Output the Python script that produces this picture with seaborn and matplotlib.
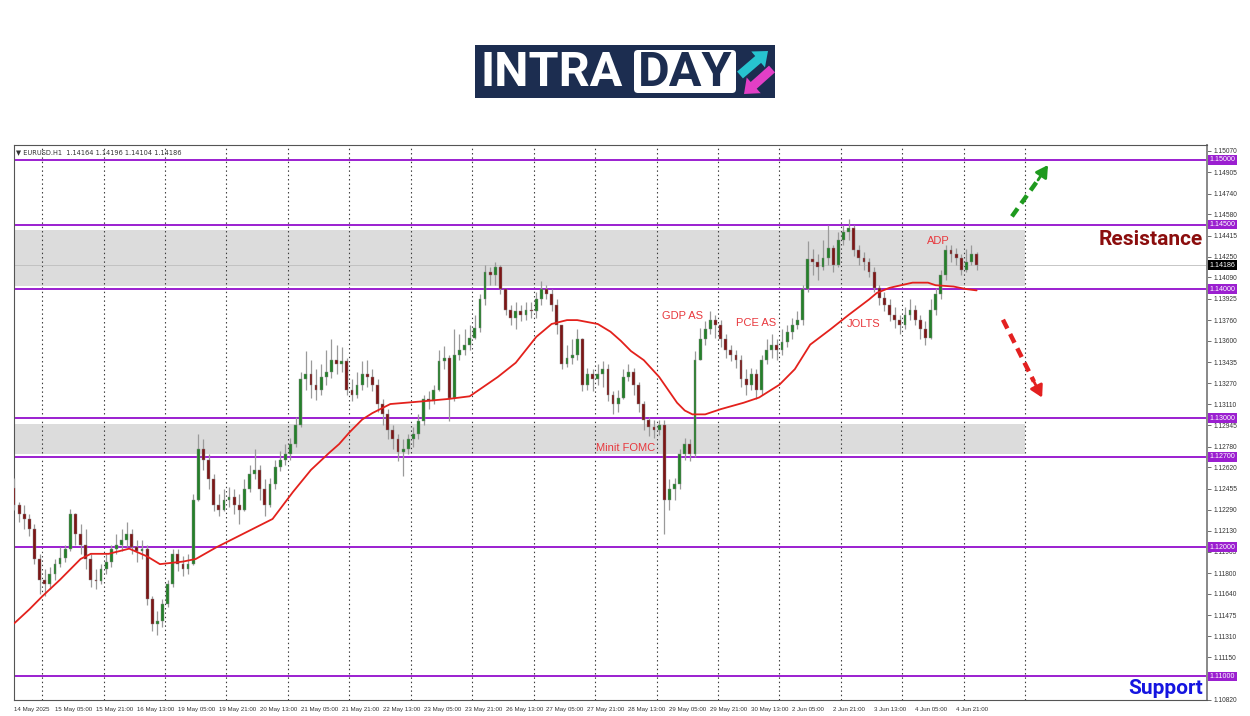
import numpy as np
import matplotlib
matplotlib.use("Agg")
import matplotlib.pyplot as plt
import matplotlib.transforms as mtransforms
from matplotlib.patches import Rectangle, FancyBboxPatch, FancyArrow
import seaborn as sns

# EURUSD, 2-hour candles (14 May 13:00 -> 5 Jun 05:00)
first_open = 1.1246
closes = [
    1.1233, 1.1226, 1.1222, 1.1214, 1.1191, 1.1175, 1.1172, 1.1179, 1.1187, 1.1192,
    1.1199, 1.1226, 1.1210, 1.1202, 1.1191, 1.1175, 1.1174, 1.1183, 1.1189, 1.1199,
    1.1202, 1.1206, 1.1210, 1.1200, 1.1197, 1.1199, 1.1160, 1.1141, 1.1143, 1.1156,
    1.1172, 1.1195, 1.1187, 1.1183, 1.1187, 1.1237, 1.1276, 1.1268, 1.1253, 1.1233,
    1.1229, 1.1237, 1.1239, 1.1233, 1.1229, 1.1245, 1.1257, 1.1260, 1.1245, 1.1233,
    1.1249, 1.1262, 1.1268, 1.1272, 1.1280, 1.1295, 1.1330, 1.1334, 1.1326, 1.1322,
    1.1332, 1.1336, 1.1345, 1.1342, 1.1344, 1.1322, 1.1318, 1.1326, 1.1334, 1.1332,
    1.1326, 1.1311, 1.1303, 1.1291, 1.1284, 1.1274, 1.1276, 1.1284, 1.1288, 1.1298,
    1.1315, 1.1313, 1.1322, 1.1344, 1.1347, 1.1316, 1.1349, 1.1353, 1.1357, 1.1362,
    1.1370, 1.1392, 1.1413, 1.1411, 1.1417, 1.1400, 1.1384, 1.1378, 1.1383, 1.1380,
    1.1384, 1.1383, 1.1392, 1.1400, 1.1396, 1.1388, 1.1372, 1.1342, 1.1347, 1.1349,
    1.1361, 1.1326, 1.1334, 1.1330, 1.1334, 1.1338, 1.1318, 1.1311, 1.1316, 1.1332,
    1.1336, 1.1326, 1.1311, 1.1299, 1.1293, 1.1291, 1.1295, 1.1237, 1.1245, 1.1249,
    1.1272, 1.1280, 1.1272, 1.1345, 1.1361, 1.1369, 1.1376, 1.1372, 1.1361, 1.1353,
    1.1349, 1.1345, 1.1330, 1.1326, 1.1334, 1.1322, 1.1345, 1.1353, 1.1357, 1.1353,
    1.1359, 1.1367, 1.1372, 1.1376, 1.1400, 1.1423, 1.1421, 1.1417, 1.1424, 1.1432,
    1.1419, 1.1438, 1.1444, 1.1447, 1.1430, 1.1424, 1.1421, 1.1413, 1.1401, 1.1393,
    1.1388, 1.1380, 1.1376, 1.1372, 1.1380, 1.1384, 1.1376, 1.1369, 1.1362, 1.1384,
    1.1396, 1.1411, 1.1430, 1.1427, 1.1424, 1.1415, 1.1421, 1.1427, 1.14186,
]
highs = [
    1.1254, 1.1235, 1.1233, 1.1226, 1.1218, 1.1195, 1.1183, 1.1185, 1.1191, 1.1200,
    1.1202, 1.1230, 1.1227, 1.1218, 1.1214, 1.1195, 1.1183, 1.1187, 1.1195, 1.1202,
    1.1210, 1.1214, 1.1220, 1.1214, 1.1206, 1.1206, 1.1202, 1.1162, 1.1151, 1.1160,
    1.1175, 1.1199, 1.1199, 1.1193, 1.1195, 1.1241, 1.1288, 1.1284, 1.1272, 1.1257,
    1.1241, 1.1245, 1.1247, 1.1245, 1.1241, 1.1253, 1.1264, 1.1276, 1.1264, 1.1253,
    1.1254, 1.1268, 1.1275, 1.1280, 1.1285, 1.1301, 1.1336, 1.1352, 1.1345, 1.1338,
    1.1342, 1.1353, 1.1361, 1.1357, 1.1355, 1.1347, 1.1330, 1.1336, 1.1344, 1.1345,
    1.1338, 1.1330, 1.1315, 1.1307, 1.1295, 1.1288, 1.1284, 1.1288, 1.1293, 1.1303,
    1.1318, 1.1321, 1.1326, 1.1353, 1.1356, 1.1349, 1.1369, 1.1365, 1.1369, 1.1372,
    1.1380, 1.1396, 1.1419, 1.1417, 1.1421, 1.1419, 1.1400, 1.1388, 1.1390, 1.1388,
    1.1390, 1.1390, 1.1398, 1.1406, 1.1403, 1.1400, 1.1392, 1.1372, 1.1357, 1.1361,
    1.1369, 1.1362, 1.1339, 1.1338, 1.1342, 1.1344, 1.1342, 1.1321, 1.1322, 1.1338,
    1.1342, 1.1339, 1.1328, 1.1313, 1.1301, 1.1299, 1.1299, 1.1299, 1.1253, 1.1254,
    1.1276, 1.1285, 1.1284, 1.1352, 1.1370, 1.1375, 1.1383, 1.1380, 1.1376, 1.1365,
    1.1357, 1.1353, 1.1349, 1.1338, 1.1339, 1.1338, 1.1349, 1.1361, 1.1365, 1.1361,
    1.1369, 1.1372, 1.1378, 1.1383, 1.1403, 1.1437, 1.1431, 1.1427, 1.1438, 1.1450,
    1.1434, 1.1444, 1.1450, 1.1454, 1.1450, 1.1434, 1.1429, 1.1424, 1.1417, 1.1403,
    1.1398, 1.1392, 1.1386, 1.1380, 1.1386, 1.1392, 1.1388, 1.1380, 1.1375, 1.1392,
    1.1401, 1.1415, 1.1434, 1.1434, 1.1432, 1.1427, 1.1431, 1.1434, 1.1429,
]
lows = [
    1.1229, 1.1220, 1.1214, 1.1209, 1.1187, 1.1164, 1.1162, 1.1168, 1.1175, 1.1185,
    1.1189, 1.1197, 1.1202, 1.1195, 1.1183, 1.1169, 1.1168, 1.1172, 1.1179, 1.1185,
    1.1195, 1.1197, 1.1200, 1.1195, 1.1189, 1.1191, 1.1155, 1.1135, 1.1132, 1.1138,
    1.1154, 1.1169, 1.1182, 1.1178, 1.1179, 1.1186, 1.1236, 1.1260, 1.1245, 1.1228,
    1.1224, 1.1228, 1.1231, 1.1226, 1.1218, 1.1228, 1.1243, 1.1253, 1.1237, 1.1224,
    1.1231, 1.1245, 1.1259, 1.1264, 1.1268, 1.1278, 1.1293, 1.1322, 1.1316, 1.1314,
    1.1318, 1.1326, 1.1331, 1.1334, 1.1336, 1.1318, 1.1313, 1.1316, 1.1322, 1.1324,
    1.1321, 1.1305, 1.1295, 1.1284, 1.1276, 1.1267, 1.1255, 1.1272, 1.1278, 1.1284,
    1.1295, 1.1307, 1.1311, 1.1321, 1.1338, 1.1298, 1.1313, 1.1345, 1.1349, 1.1353,
    1.1361, 1.1367, 1.1388, 1.1403, 1.1403, 1.1396, 1.1380, 1.1372, 1.1369, 1.1375,
    1.1376, 1.1378, 1.1378, 1.1388, 1.1392, 1.1383, 1.1365, 1.1338, 1.1340, 1.1342,
    1.1345, 1.1321, 1.1322, 1.1321, 1.1326, 1.1324, 1.1313, 1.1303, 1.1305, 1.1315,
    1.1329, 1.1318, 1.1305, 1.1291, 1.1286, 1.1285, 1.1287, 1.1210, 1.1229, 1.1237,
    1.1245, 1.1268, 1.1267, 1.1270, 1.1345, 1.1357, 1.1365, 1.1362, 1.1355, 1.1347,
    1.1344, 1.1339, 1.1324, 1.1318, 1.1322, 1.1315, 1.1318, 1.1342, 1.1347, 1.1345,
    1.1349, 1.1355, 1.1361, 1.1369, 1.1372, 1.1398, 1.1411, 1.1407, 1.1415, 1.1419,
    1.1413, 1.1417, 1.1434, 1.1438, 1.1426, 1.1419, 1.1415, 1.1409, 1.1398, 1.1388,
    1.1383, 1.1375, 1.1370, 1.1365, 1.1369, 1.1376, 1.1372, 1.1361, 1.1357, 1.1361,
    1.1380, 1.1392, 1.1407, 1.1421, 1.1419, 1.1411, 1.1413, 1.1419, 1.1415,
]

# red moving average, read at points along the line (x in hourly bars)
ma_hours = [0, 6, 11, 18, 26, 30, 37, 45, 52, 57, 66, 71, 79, 89, 101, 109, 116, 123,
            127, 131, 136, 140, 147, 159, 170, 178, 189, 196, 204, 210, 216, 220, 228,
            233, 237, 241, 246, 252, 259, 262, 265, 270, 276, 285, 291, 299, 305, 311,
            319, 326, 334, 337, 342, 351, 357, 360, 367, 372, 376]
ma_values = [1.1141, 1.1152, 1.1162, 1.1175, 1.1191, 1.1195, 1.1195, 1.1199, 1.1193,
             1.1187, 1.1189, 1.1191, 1.1200, 1.1210, 1.1222, 1.1243, 1.1260, 1.1273,
             1.1280, 1.1289, 1.1299, 1.1304, 1.1311, 1.1313, 1.1315, 1.1317, 1.1332,
             1.1343, 1.1363, 1.1373, 1.1376, 1.1376, 1.1373, 1.1367, 1.1360, 1.1352,
             1.1345, 1.1332, 1.1312, 1.1306, 1.1303, 1.1303, 1.1307, 1.1312, 1.1316,
             1.1326, 1.1338, 1.1357, 1.1369, 1.1380, 1.1392, 1.1397, 1.1401, 1.1405,
             1.1405, 1.1403, 1.1402, 1.1400, 1.1399]

tick_hours = list(range(0, 369, 16))
tick_labels = ["14 May 2025", "15 May 05:00", "15 May 21:00", "16 May 13:00",
               "19 May 05:00", "19 May 21:00", "20 May 13:00", "21 May 05:00",
               "21 May 21:00", "22 May 13:00", "23 May 05:00", "23 May 21:00",
               "26 May 13:00", "27 May 05:00", "27 May 21:00", "28 May 13:00",
               "29 May 05:00", "29 May 21:00", "30 May 13:00", "2 Jun 05:00",
               "2 Jun 21:00", "3 Jun 13:00", "4 Jun 05:00", "4 Jun 21:00"]
price_ticks = [1.15070, 1.14905, 1.14740, 1.14580, 1.14415, 1.14250, 1.14090, 1.13925,
               1.13760, 1.13600, 1.13435, 1.13270, 1.13110, 1.12945, 1.12780, 1.12620,
               1.12455, 1.12290, 1.12130, 1.11965, 1.11800, 1.11640, 1.11475, 1.11310,
               1.11150, 1.10820]
levels = [1.15, 1.145, 1.14, 1.13, 1.127, 1.12, 1.11]
zones = [(1.14026, 1.14459), (1.12726, 1.12958)]
last_price = 1.14186
events = ["GDP AS", "PCE AS", "JOLTS", "ADP", "Minit FOMC"]
event_hours = [261, 290, 332, 361, 239]
event_prices = [1.1379, 1.1374, 1.1373, 1.1437, 1.1277]

PURPLE = "#9b1fd0"
SMALL = ["Liberation Sans", "DejaVu Sans"]

sns.set_style("white")
plt.rcParams["font.family"] = ["DejaVu Sans"]

fig = plt.figure(figsize=(12.5, 7.16), dpi=100)
ax = fig.add_axes([14 / 1250, 16 / 716, 1193 / 1250, 555 / 716])

opens = [first_open] + closes[:-1]
xs = np.arange(len(closes)) * 2
o = np.array(opens)
c = np.array(closes)
up = c >= o

# support / resistance zones and levels
for lo, hi in zones:
    ax.add_patch(Rectangle((0, lo), 395, hi - lo, facecolor="#dcdcdc", edgecolor="none", zorder=0.5))
for h in range(11, 396, 24):
    ax.axvline(h, color="#3a3a3a", lw=0.8, ls=(0, (1.3, 2.6)), zorder=1)
ax.axhline(last_price, color="#bdbdbd", lw=0.6, zorder=1)
for lv in levels:
    ax.axhline(lv, color=PURPLE, lw=1.4, zorder=2)

# candles
ax.vlines(xs, lows, highs, color="#9a9a9a", lw=0.9, zorder=3)
body = c - o
body = np.where(np.abs(body) < 0.00002, 0.00002, body)
ax.bar(xs, body, bottom=o, width=1.1, color=np.where(up, "#24802a", "#7d1616"),
       edgecolor="#8a8a8a", linewidth=0.3, zorder=4)

sns.lineplot(x=ma_hours, y=ma_values, ax=ax, color="#e3211c", linewidth=1.3,
             estimator=None, sort=False, zorder=5)

ax.set_xlim(0, 466)
ax.set_ylim(1.10818, 1.15116)

ax.set_xticks(tick_hours)
ax.set_xticklabels(tick_labels, fontsize=4.4, ha="left", color="#333333", family=SMALL)
ax.tick_params(axis="x", length=3, width=0.6, pad=2, color="#555555")
ax.yaxis.tick_right()
ax.set_yticks(price_ticks)
ax.set_yticklabels([f"{v:.5f}" for v in price_ticks], fontsize=4.8, color="#333333",
                   family=SMALL)
ax.tick_params(axis="y", length=3, width=0.6, pad=2, color="#555555")
for s in ax.spines.values():
    s.set_color("#555555")
    s.set_linewidth(0.8)
ax.spines["right"].set_color("#888888")
ax.spines["right"].set_linewidth(1.4)

trans = mtransforms.blended_transform_factory(ax.transAxes, ax.transData)
for lv in levels:
    ax.text(1.0022, lv, f"{lv:.5f}", transform=trans, fontsize=5.1, color="white",
            va="center", ha="left", zorder=10, clip_on=False, family=SMALL,
            bbox=dict(boxstyle="square,pad=0.2", fc=PURPLE, ec="none"))
ax.text(1.0022, last_price, f"{last_price:.5f}", transform=trans, fontsize=5.1,
        color="white", va="center", ha="left", zorder=10, clip_on=False, family=SMALL,
        bbox=dict(boxstyle="square,pad=0.2", fc="black", ec="none"))

ax.text(0.0017, 0.988, "\u25bc EURUSD.H1  1.14164 1.14196 1.14104 1.14186",
        transform=ax.transAxes, fontsize=4.8, color="#333333", va="center", ha="left")

for name, hx, py in zip(events, event_hours, event_prices):
    ax.text(hx, py, name, fontsize=8, color="#e8383d", ha="center", va="center",
            family=SMALL, zorder=6)

ax.text(444, 1.14382, "Resistance", fontsize=15, fontweight="bold", color="#8b0d0d",
        ha="center", va="center", family=["Roboto", "DejaVu Sans"], zorder=6)
ax.text(450, 1.1091, "Support", fontsize=15, fontweight="bold", color="#1515e0",
        ha="center", va="center", family=["Roboto", "DejaVu Sans"], zorder=6)

# direction arrows
ax.plot([389.8, 400.0], [1.14563, 1.14845], color="#1e9a1e", lw=3.2, ls=(0, (2.2, 1.4)),
        solid_capstyle="butt", zorder=6)
ax.annotate("", xy=(403.9, 1.14961), xytext=(400.0, 1.14845),
            arrowprops=dict(arrowstyle="-|>,head_length=0.7,head_width=0.4",
                            color="#1e9a1e", lw=2, shrinkA=0, shrinkB=0), zorder=6)
ax.plot([386.3, 398.4], [1.13763, 1.13284], color="#e32020", lw=3.2, ls=(0, (2.2, 1.4)),
        solid_capstyle="butt", zorder=6)
ax.annotate("", xy=(401.6, 1.13160), xytext=(398.4, 1.13284),
            arrowprops=dict(arrowstyle="-|>,head_length=0.7,head_width=0.4",
                            color="#e32020", lw=2, shrinkA=0, shrinkB=0), zorder=6)

# INTRADAY logo
lg = fig.add_axes([475 / 1250, 1 - 98 / 716, 300 / 1250, 53 / 716])
lg.set_xlim(0, 300)
lg.set_ylim(53, 0)
lg.axis("off")
lg.add_patch(Rectangle((0, 0), 300, 53, facecolor="#1c2d50", edgecolor="none"))
lg.text(6, 28, "INTRA", fontsize=35, fontweight="bold", color="white", va="center",
        ha="left", family=["Roboto", "DejaVu Sans"])
lg.add_patch(FancyBboxPatch((159, 5), 102, 43, boxstyle="round,pad=0,rounding_size=4",
                            facecolor="white", edgecolor="none"))
lg.text(210, 28, "DAY", fontsize=35, fontweight="bold", color="#1c2d50", va="center",
        ha="center", family=["Roboto", "DejaVu Sans"])
lg.add_patch(FancyArrow(265, 30, 28, -24, width=9, head_width=21, head_length=13,
                        length_includes_head=True, color="#27c3cf", lw=0))
lg.add_patch(FancyArrow(297, 24, -28, 25, width=9, head_width=21, head_length=13,
                        length_includes_head=True, color="#e23fc6", lw=0))

fig.savefig("out.png", dpi=100)
